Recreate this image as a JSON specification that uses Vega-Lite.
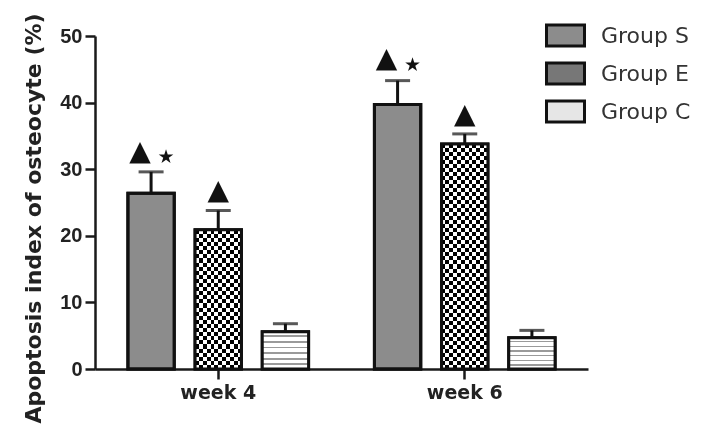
{
  "$schema": "https://vega.github.io/schema/vega-lite/v6.json",
  "autosize": "none",
  "width": 493,
  "height": 333,
  "padding": {"left": 95, "top": 36, "right": 114, "bottom": 65},
  "background": "white",
  "config": {
    "view": {"stroke": null},
    "font": "Liberation Sans",
    "axis": {"grid": false, "domainColor": "#1a1a1a", "domainWidth": 2.5, "tickColor": "#1a1a1a", "tickWidth": 2.5, "tickSize": 10, "labelColor": "#222", "titleColor": "#222"}
  },
  "datasets": {
    "bars": [
      {"week": "week 4", "group": "Group S", "value": 26.4, "upper": 29.6},
      {"week": "week 4", "group": "Group E", "value": 20.9, "upper": 23.8},
      {"week": "week 4", "group": "Group C", "value": 5.6, "upper": 6.8},
      {"week": "week 6", "group": "Group S", "value": 39.7, "upper": 43.3},
      {"week": "week 6", "group": "Group E", "value": 33.8, "upper": 35.3},
      {"week": "week 6", "group": "Group C", "value": 4.7, "upper": 5.8}
    ],
    "marks": [
      {"week": "week 4", "group": "Group S", "tri": 32.6, "star": 31.8},
      {"week": "week 4", "group": "Group E", "tri": 26.7, "star": null},
      {"week": "week 6", "group": "Group S", "tri": 46.5, "star": 45.6},
      {"week": "week 6", "group": "Group E", "tri": 38.1, "star": null}
    ]
  },
  "encoding": {
    "x": {"field": "week", "type": "nominal", "scale": {"paddingInner": 0, "paddingOuter": 0},
      "axis": {"title": null, "labelAngle": 0, "labelFont": "DejaVu Sans", "labelFontSize": 19, "labelFontWeight": "bold", "labelPadding": 4}},
    "xOffset": {"field": "group", "type": "nominal", "sort": ["Group S", "Group E", "Group C"],
      "scale": {"paddingInner": 0.31, "paddingOuter": 0.49}}
  },
  "layer": [
    {
      "data": {"name": "bars"},
      "mark": {"type": "bar", "stroke": "#111", "strokeWidth": 3},
      "encoding": {
        "y": {"field": "value", "type": "quantitative", "scale": {"domain": [0, 50], "nice": false},
          "axis": {"title": "Apoptosis index of osteocyte (%)", "values": [0, 10, 20, 30, 40, 50], "labelFontSize": 20, "labelFontWeight": "bold", "labelPadding": 3, "titleFont": "DejaVu Sans", "titleFontSize": 22, "titleFontWeight": "bold", "titlePadding": 14, "titleY": 182}},
        "fill": {"field": "group", "type": "nominal", "sort": ["Group S", "Group E", "Group C"],
          "scale": {"range": ["#8c8c8c", "#777777", "#e6e6e6"]},
          "legend": {"title": null, "orient": "none", "legendX": 459, "legendY": -12,
            "symbolType": "M-1.9,-1.05H1.9V1.05H-1.9Z", "symbolSize": 400, "symbolStrokeColor": "#111", "symbolStrokeWidth": 3,
            "labelFont": "DejaVu Sans", "labelFontSize": 22, "labelColor": "#333", "labelOffset": 24, "rowPadding": 5, "padding": 0}}
      }
    },
    {
      "data": {"name": "bars"},
      "transform": [{"filter": "datum.group === 'Group E'"}],
      "mark": {"type": "bar",
        "fill": {"gradient": "linear", "x1": 0, "y1": 0, "x2": 1, "y2": 0, "stops": [
          {"offset": 0, "color": "#000"}, {"offset": 0.083, "color": "#000"}, {"offset": 0.083, "color": "#fff"}, {"offset": 0.167, "color": "#fff"},
          {"offset": 0.167, "color": "#000"}, {"offset": 0.25, "color": "#000"}, {"offset": 0.25, "color": "#fff"}, {"offset": 0.333, "color": "#fff"},
          {"offset": 0.333, "color": "#000"}, {"offset": 0.417, "color": "#000"}, {"offset": 0.417, "color": "#fff"}, {"offset": 0.5, "color": "#fff"},
          {"offset": 0.5, "color": "#000"}, {"offset": 0.583, "color": "#000"}, {"offset": 0.583, "color": "#fff"}, {"offset": 0.667, "color": "#fff"},
          {"offset": 0.667, "color": "#000"}, {"offset": 0.75, "color": "#000"}, {"offset": 0.75, "color": "#fff"}, {"offset": 0.833, "color": "#fff"},
          {"offset": 0.833, "color": "#000"}, {"offset": 0.917, "color": "#000"}, {"offset": 0.917, "color": "#fff"}, {"offset": 1, "color": "#fff"}]}},
      "encoding": {"y": {"field": "value", "type": "quantitative"}}
    },
    {
      "data": {"name": "bars"},
      "transform": [{"filter": "datum.group === 'Group E' && datum.week === 'week 4'"}],
      "mark": {"type": "bar", "blend": "difference",
        "fill": {"gradient": "linear", "x1": 0, "y1": 0, "x2": 0, "y2": 1, "stops": [
          {"offset": 0, "color": "#000"}, {"offset": 0.0294, "color": "#000"}, {"offset": 0.0294, "color": "#fff"}, {"offset": 0.0588, "color": "#fff"},
          {"offset": 0.0588, "color": "#000"}, {"offset": 0.0882, "color": "#000"}, {"offset": 0.0882, "color": "#fff"}, {"offset": 0.1176, "color": "#fff"},
          {"offset": 0.1176, "color": "#000"}, {"offset": 0.1471, "color": "#000"}, {"offset": 0.1471, "color": "#fff"}, {"offset": 0.1765, "color": "#fff"},
          {"offset": 0.1765, "color": "#000"}, {"offset": 0.2059, "color": "#000"}, {"offset": 0.2059, "color": "#fff"}, {"offset": 0.2353, "color": "#fff"},
          {"offset": 0.2353, "color": "#000"}, {"offset": 0.2647, "color": "#000"}, {"offset": 0.2647, "color": "#fff"}, {"offset": 0.2941, "color": "#fff"},
          {"offset": 0.2941, "color": "#000"}, {"offset": 0.3235, "color": "#000"}, {"offset": 0.3235, "color": "#fff"}, {"offset": 0.3529, "color": "#fff"},
          {"offset": 0.3529, "color": "#000"}, {"offset": 0.3824, "color": "#000"}, {"offset": 0.3824, "color": "#fff"}, {"offset": 0.4118, "color": "#fff"},
          {"offset": 0.4118, "color": "#000"}, {"offset": 0.4412, "color": "#000"}, {"offset": 0.4412, "color": "#fff"}, {"offset": 0.4706, "color": "#fff"},
          {"offset": 0.4706, "color": "#000"}, {"offset": 0.5, "color": "#000"}, {"offset": 0.5, "color": "#fff"}, {"offset": 0.5294, "color": "#fff"},
          {"offset": 0.5294, "color": "#000"}, {"offset": 0.5588, "color": "#000"}, {"offset": 0.5588, "color": "#fff"}, {"offset": 0.5882, "color": "#fff"},
          {"offset": 0.5882, "color": "#000"}, {"offset": 0.6176, "color": "#000"}, {"offset": 0.6176, "color": "#fff"}, {"offset": 0.6471, "color": "#fff"},
          {"offset": 0.6471, "color": "#000"}, {"offset": 0.6765, "color": "#000"}, {"offset": 0.6765, "color": "#fff"}, {"offset": 0.7059, "color": "#fff"},
          {"offset": 0.7059, "color": "#000"}, {"offset": 0.7353, "color": "#000"}, {"offset": 0.7353, "color": "#fff"}, {"offset": 0.7647, "color": "#fff"},
          {"offset": 0.7647, "color": "#000"}, {"offset": 0.7941, "color": "#000"}, {"offset": 0.7941, "color": "#fff"}, {"offset": 0.8235, "color": "#fff"},
          {"offset": 0.8235, "color": "#000"}, {"offset": 0.8529, "color": "#000"}, {"offset": 0.8529, "color": "#fff"}, {"offset": 0.8824, "color": "#fff"},
          {"offset": 0.8824, "color": "#000"}, {"offset": 0.9118, "color": "#000"}, {"offset": 0.9118, "color": "#fff"}, {"offset": 0.9412, "color": "#fff"},
          {"offset": 0.9412, "color": "#000"}, {"offset": 0.9706, "color": "#000"}, {"offset": 0.9706, "color": "#fff"}, {"offset": 1, "color": "#fff"}]}},
      "encoding": {"y": {"field": "value", "type": "quantitative"}}
    },
    {
      "data": {"name": "bars"},
      "transform": [{"filter": "datum.group === 'Group E' && datum.week === 'week 6'"}],
      "mark": {"type": "bar", "blend": "difference",
        "fill": {"gradient": "linear", "x1": 0, "y1": 0, "x2": 0, "y2": 1, "stops": [
          {"offset": 0, "color": "#000"}, {"offset": 0.0179, "color": "#000"}, {"offset": 0.0179, "color": "#fff"}, {"offset": 0.0357, "color": "#fff"},
          {"offset": 0.0357, "color": "#000"}, {"offset": 0.0536, "color": "#000"}, {"offset": 0.0536, "color": "#fff"}, {"offset": 0.0714, "color": "#fff"},
          {"offset": 0.0714, "color": "#000"}, {"offset": 0.0893, "color": "#000"}, {"offset": 0.0893, "color": "#fff"}, {"offset": 0.1071, "color": "#fff"},
          {"offset": 0.1071, "color": "#000"}, {"offset": 0.125, "color": "#000"}, {"offset": 0.125, "color": "#fff"}, {"offset": 0.1429, "color": "#fff"},
          {"offset": 0.1429, "color": "#000"}, {"offset": 0.1607, "color": "#000"}, {"offset": 0.1607, "color": "#fff"}, {"offset": 0.1786, "color": "#fff"},
          {"offset": 0.1786, "color": "#000"}, {"offset": 0.1964, "color": "#000"}, {"offset": 0.1964, "color": "#fff"}, {"offset": 0.2143, "color": "#fff"},
          {"offset": 0.2143, "color": "#000"}, {"offset": 0.2321, "color": "#000"}, {"offset": 0.2321, "color": "#fff"}, {"offset": 0.25, "color": "#fff"},
          {"offset": 0.25, "color": "#000"}, {"offset": 0.2679, "color": "#000"}, {"offset": 0.2679, "color": "#fff"}, {"offset": 0.2857, "color": "#fff"},
          {"offset": 0.2857, "color": "#000"}, {"offset": 0.3036, "color": "#000"}, {"offset": 0.3036, "color": "#fff"}, {"offset": 0.3214, "color": "#fff"},
          {"offset": 0.3214, "color": "#000"}, {"offset": 0.3393, "color": "#000"}, {"offset": 0.3393, "color": "#fff"}, {"offset": 0.3571, "color": "#fff"},
          {"offset": 0.3571, "color": "#000"}, {"offset": 0.375, "color": "#000"}, {"offset": 0.375, "color": "#fff"}, {"offset": 0.3929, "color": "#fff"},
          {"offset": 0.3929, "color": "#000"}, {"offset": 0.4107, "color": "#000"}, {"offset": 0.4107, "color": "#fff"}, {"offset": 0.4286, "color": "#fff"},
          {"offset": 0.4286, "color": "#000"}, {"offset": 0.4464, "color": "#000"}, {"offset": 0.4464, "color": "#fff"}, {"offset": 0.4643, "color": "#fff"},
          {"offset": 0.4643, "color": "#000"}, {"offset": 0.4821, "color": "#000"}, {"offset": 0.4821, "color": "#fff"}, {"offset": 0.5, "color": "#fff"},
          {"offset": 0.5, "color": "#000"}, {"offset": 0.5179, "color": "#000"}, {"offset": 0.5179, "color": "#fff"}, {"offset": 0.5357, "color": "#fff"},
          {"offset": 0.5357, "color": "#000"}, {"offset": 0.5536, "color": "#000"}, {"offset": 0.5536, "color": "#fff"}, {"offset": 0.5714, "color": "#fff"},
          {"offset": 0.5714, "color": "#000"}, {"offset": 0.5893, "color": "#000"}, {"offset": 0.5893, "color": "#fff"}, {"offset": 0.6071, "color": "#fff"},
          {"offset": 0.6071, "color": "#000"}, {"offset": 0.625, "color": "#000"}, {"offset": 0.625, "color": "#fff"}, {"offset": 0.6429, "color": "#fff"},
          {"offset": 0.6429, "color": "#000"}, {"offset": 0.6607, "color": "#000"}, {"offset": 0.6607, "color": "#fff"}, {"offset": 0.6786, "color": "#fff"},
          {"offset": 0.6786, "color": "#000"}, {"offset": 0.6964, "color": "#000"}, {"offset": 0.6964, "color": "#fff"}, {"offset": 0.7143, "color": "#fff"},
          {"offset": 0.7143, "color": "#000"}, {"offset": 0.7321, "color": "#000"}, {"offset": 0.7321, "color": "#fff"}, {"offset": 0.75, "color": "#fff"},
          {"offset": 0.75, "color": "#000"}, {"offset": 0.7679, "color": "#000"}, {"offset": 0.7679, "color": "#fff"}, {"offset": 0.7857, "color": "#fff"},
          {"offset": 0.7857, "color": "#000"}, {"offset": 0.8036, "color": "#000"}, {"offset": 0.8036, "color": "#fff"}, {"offset": 0.8214, "color": "#fff"},
          {"offset": 0.8214, "color": "#000"}, {"offset": 0.8393, "color": "#000"}, {"offset": 0.8393, "color": "#fff"}, {"offset": 0.8571, "color": "#fff"},
          {"offset": 0.8571, "color": "#000"}, {"offset": 0.875, "color": "#000"}, {"offset": 0.875, "color": "#fff"}, {"offset": 0.8929, "color": "#fff"},
          {"offset": 0.8929, "color": "#000"}, {"offset": 0.9107, "color": "#000"}, {"offset": 0.9107, "color": "#fff"}, {"offset": 0.9286, "color": "#fff"},
          {"offset": 0.9286, "color": "#000"}, {"offset": 0.9464, "color": "#000"}, {"offset": 0.9464, "color": "#fff"}, {"offset": 0.9643, "color": "#fff"},
          {"offset": 0.9643, "color": "#000"}, {"offset": 0.9821, "color": "#000"}, {"offset": 0.9821, "color": "#fff"}, {"offset": 1, "color": "#fff"}]}},
      "encoding": {"y": {"field": "value", "type": "quantitative"}}
    },
    {
      "data": {"name": "bars"},
      "transform": [{"filter": "datum.group === 'Group C'"}],
      "mark": {"type": "bar",
        "fill": {"gradient": "linear", "x1": 0, "y1": 0, "x2": 0, "y2": 1, "stops": [
          {"offset": 0, "color": "#ffffff"}, {"offset": 0.1, "color": "#ffffff"}, {"offset": 0.1, "color": "#9a9a9a"}, {"offset": 0.15, "color": "#9a9a9a"}, {"offset": 0.15, "color": "#ffffff"},
          {"offset": 0.25, "color": "#ffffff"}, {"offset": 0.25, "color": "#9a9a9a"}, {"offset": 0.3, "color": "#9a9a9a"}, {"offset": 0.3, "color": "#ffffff"},
          {"offset": 0.4, "color": "#ffffff"}, {"offset": 0.4, "color": "#9a9a9a"}, {"offset": 0.45, "color": "#9a9a9a"}, {"offset": 0.45, "color": "#ffffff"},
          {"offset": 0.55, "color": "#ffffff"}, {"offset": 0.55, "color": "#9a9a9a"}, {"offset": 0.6, "color": "#9a9a9a"}, {"offset": 0.6, "color": "#ffffff"},
          {"offset": 0.7, "color": "#ffffff"}, {"offset": 0.7, "color": "#9a9a9a"}, {"offset": 0.75, "color": "#9a9a9a"}, {"offset": 0.75, "color": "#ffffff"},
          {"offset": 0.85, "color": "#ffffff"}, {"offset": 0.85, "color": "#9a9a9a"}, {"offset": 0.9, "color": "#9a9a9a"}, {"offset": 0.9, "color": "#ffffff"},
          {"offset": 1, "color": "#ffffff"}]}},
      "encoding": {"y": {"field": "value", "type": "quantitative"}}
    },
    {
      "data": {"name": "bars"},
      "mark": {"type": "bar", "fill": null, "fillOpacity": 0, "stroke": "#111", "strokeWidth": 3},
      "encoding": {"y": {"field": "value", "type": "quantitative"}}
    },
    {
      "data": {"name": "bars"},
      "mark": {"type": "rule", "color": "#111", "strokeWidth": 3},
      "encoding": {"y": {"field": "value", "type": "quantitative"}, "y2": {"field": "upper"}}
    },
    {
      "data": {"name": "bars"},
      "mark": {"type": "tick", "color": "#111", "orient": "horizontal", "size": 25, "thickness": 3},
      "encoding": {"y": {"field": "upper", "type": "quantitative"}}
    },
    {
      "data": {"name": "marks"},
      "transform": [{"filter": "datum.group === 'Group E'"}],
      "mark": {"type": "text", "text": "▲", "font": "DejaVu Sans", "fontSize": 28, "baseline": "middle", "color": "#111"},
      "encoding": {"y": {"field": "tri", "type": "quantitative"}}
    },
    {
      "data": {"name": "marks"},
      "transform": [{"filter": "datum.group === 'Group S'"}],
      "mark": {"type": "text", "text": "▲", "font": "DejaVu Sans", "fontSize": 28, "baseline": "middle", "color": "#111", "dx": -11},
      "encoding": {"y": {"field": "tri", "type": "quantitative"}}
    },
    {
      "data": {"name": "marks"},
      "transform": [{"filter": "datum.star !== null"}],
      "mark": {"type": "text", "text": "★", "font": "DejaVu Sans", "fontSize": 19, "baseline": "middle", "color": "#111", "dx": 15},
      "encoding": {"y": {"field": "star", "type": "quantitative"}}
    }
  ]
}
